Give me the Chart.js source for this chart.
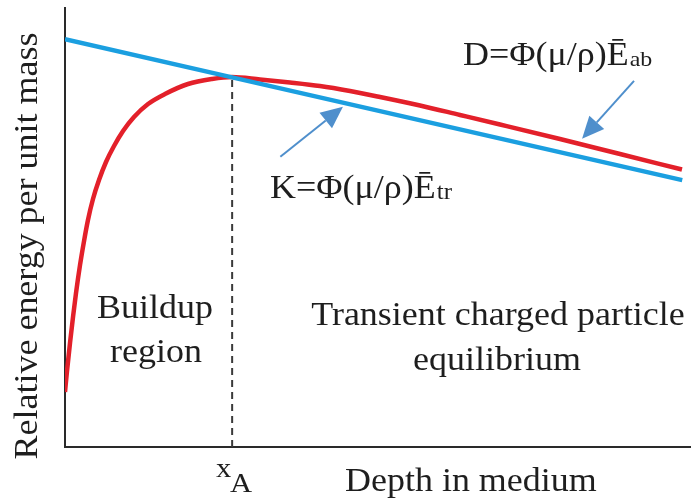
<!DOCTYPE html>
<html>
<head>
<meta charset="utf-8">
<script src="https://cdn.jsdelivr.net/npm/chart.js@4/dist/chart.umd.min.js"></script>
<style>
  html, body { margin: 0; padding: 0; background: #ffffff; }
  #c { display: block; }
</style>
</head>
<body>
<canvas id="c" width="691" height="502"></canvas>
<script>
// ---- data (depth vs relative energy per unit mass, arbitrary units) ----
const doseDepth = [0.000, 0.032, 0.080, 0.128, 0.176, 0.240, 0.304, 0.367, 0.447, 0.543, 0.655, 0.783, 0.927, 1.102, 1.326, 1.597, 1.965, 2.348, 2.668, 3.115, 3.594, 4.073, 4.553, 5.032, 5.671, 6.310, 6.949, 7.907, 8.866, 9.856];
const doseValue = [1.253, 1.731, 2.369, 2.961, 3.508, 4.146, 4.692, 5.171, 5.649, 6.082, 6.492, 6.856, 7.198, 7.517, 7.813, 8.041, 8.269, 8.383, 8.428, 8.371, 8.303, 8.223, 8.109, 7.973, 7.779, 7.563, 7.346, 7.016, 6.674, 6.321];
const kermaDepth = [0, 2.67, 9.86];
const kermaValue = [9.29, 8.42, 6.08];
const xA = 2.67;
const xAValue = 8.43;

// annotation arrows: [fromX, fromY, toX, toY] in data units
const arrowK = [3.44, 6.61, 4.44, 7.75];
const arrowD = [9.09, 8.34, 8.26, 7.02];

const labels = {
  yTitle: 'Relative energy per unit mass',
  xTitle: 'Depth in medium',
  buildup: ['Buildup', 'region'],
  tcpe: ['Transient charged particle', 'equilibrium'],
  dMain: 'D=\u03A6(\u03BC/\u03C1)\u0112', dSub: 'ab',
  kMain: 'K=\u03A6(\u03BC/\u03C1)\u0112', kSub: 'tr',
  xAMain: 'x', xASub: 'A'
};

const RED = '#e3202a';
const BLUE = '#1b9fe0';
const ARROW = '#4f8fcc';
const INK = '#1e1e1e';
const FONT = '"Liberation Serif", "Times New Roman", serif';
const STRETCH = 1.09;

const pts = (xs, ys) => xs.map((x, i) => ({ x: x, y: ys[i] }));

function txt(ctx, s, x, y, size, align, rotate) {
  ctx.save();
  ctx.translate(x, y);
  if (rotate) ctx.rotate(-Math.PI / 2);
  ctx.scale(STRETCH, 1);
  ctx.font = size + 'px ' + FONT;
  ctx.fillStyle = INK;
  ctx.textAlign = align || 'left';
  ctx.textBaseline = rotate ? 'middle' : 'alphabetic';
  ctx.fillText(s, 0, 0);
  const w = ctx.measureText(s).width * STRETCH;
  ctx.restore();
  return w;
}

function arrow(ctx, xs, ys, a) {
  const x1 = xs.getPixelForValue(a[0]), y1 = ys.getPixelForValue(a[1]);
  const x2 = xs.getPixelForValue(a[2]), y2 = ys.getPixelForValue(a[3]);
  const ang = Math.atan2(y2 - y1, x2 - x1);
  const hl = 22, hw = 10;
  const bx = x2 - hl * Math.cos(ang), by = y2 - hl * Math.sin(ang);
  ctx.save();
  ctx.strokeStyle = ARROW;
  ctx.lineWidth = 2;
  ctx.beginPath();
  ctx.moveTo(x1, y1);
  ctx.lineTo(bx, by);
  ctx.stroke();
  ctx.fillStyle = ARROW;
  ctx.beginPath();
  ctx.moveTo(x2, y2);
  ctx.lineTo(bx + hw * Math.sin(ang), by - hw * Math.cos(ang));
  ctx.lineTo(bx - hw * Math.sin(ang), by + hw * Math.cos(ang));
  ctx.closePath();
  ctx.fill();
  ctx.restore();
}

const bgPlugin = {
  id: 'bg',
  beforeDraw(chart) {
    const c = chart.ctx;
    c.save();
    c.fillStyle = '#ffffff';
    c.fillRect(0, 0, chart.width, chart.height);
    c.restore();
  }
};

const annoPlugin = {
  id: 'anno',
  afterDraw(chart) {
    const c = chart.ctx;
    const xs = chart.scales.x, ys = chart.scales.y;
    arrow(c, xs, ys, arrowK);
    arrow(c, xs, ys, arrowD);

    txt(c, labels.yTitle, 28, 246, 33, 'center', true);
    txt(c, labels.xTitle, 345, 491, 33, 'left');

    txt(c, labels.buildup[0], 155, 318, 33, 'center');
    txt(c, labels.buildup[1], 156, 362, 33, 'center');
    txt(c, labels.tcpe[0], 498, 325, 33, 'center');
    txt(c, labels.tcpe[1], 497, 370, 33, 'center');

    let w = txt(c, labels.dMain, 463, 65, 33, 'left');
    txt(c, labels.dSub, 463 + w + 1, 66, 22, 'left');
    w = txt(c, labels.kMain, 270, 198, 33, 'left');
    txt(c, labels.kSub, 270 + w + 1, 199, 23, 'left');

    txt(c, labels.xAMain, 216, 477, 28, 'left');
    txt(c, labels.xASub, 230, 492, 28, 'left');
  }
};

new Chart(document.getElementById('c').getContext('2d'), {
  type: 'scatter',
  data: {
    datasets: [
      { label: 'K', data: pts(kermaDepth, kermaValue), showLine: true, borderColor: BLUE, borderWidth: 4.5, pointRadius: 0, fill: false },
      { label: 'D', data: pts(doseDepth, doseValue), showLine: true, borderColor: RED, borderWidth: 4.5, pointRadius: 0, fill: false, cubicInterpolationMode: 'monotone' },
      { label: 'xA', data: [{ x: xA, y: 0 }, { x: xA, y: xAValue }], showLine: true, borderColor: '#3a3a3a', borderWidth: 2, borderDash: [7, 5], pointRadius: 0, fill: false }
    ]
  },
  options: {
    responsive: false,
    animation: false,
    events: [],
    layout: { padding: { left: 65, top: 8, right: 0, bottom: 55 } },
    plugins: { legend: { display: false }, tooltip: { enabled: false }, title: { display: false } },
    scales: {
      x: { type: 'linear', min: 0, max: 10, ticks: { display: false }, grid: { display: false, drawTicks: false }, border: { display: true, color: '#2a2a2a', width: 2 } },
      y: { type: 'linear', min: 0, max: 10, ticks: { display: false }, grid: { display: false, drawTicks: false }, border: { display: true, color: '#2a2a2a', width: 2 } }
    }
  },
  plugins: [bgPlugin, annoPlugin]
});
</script>
</body>
</html>
